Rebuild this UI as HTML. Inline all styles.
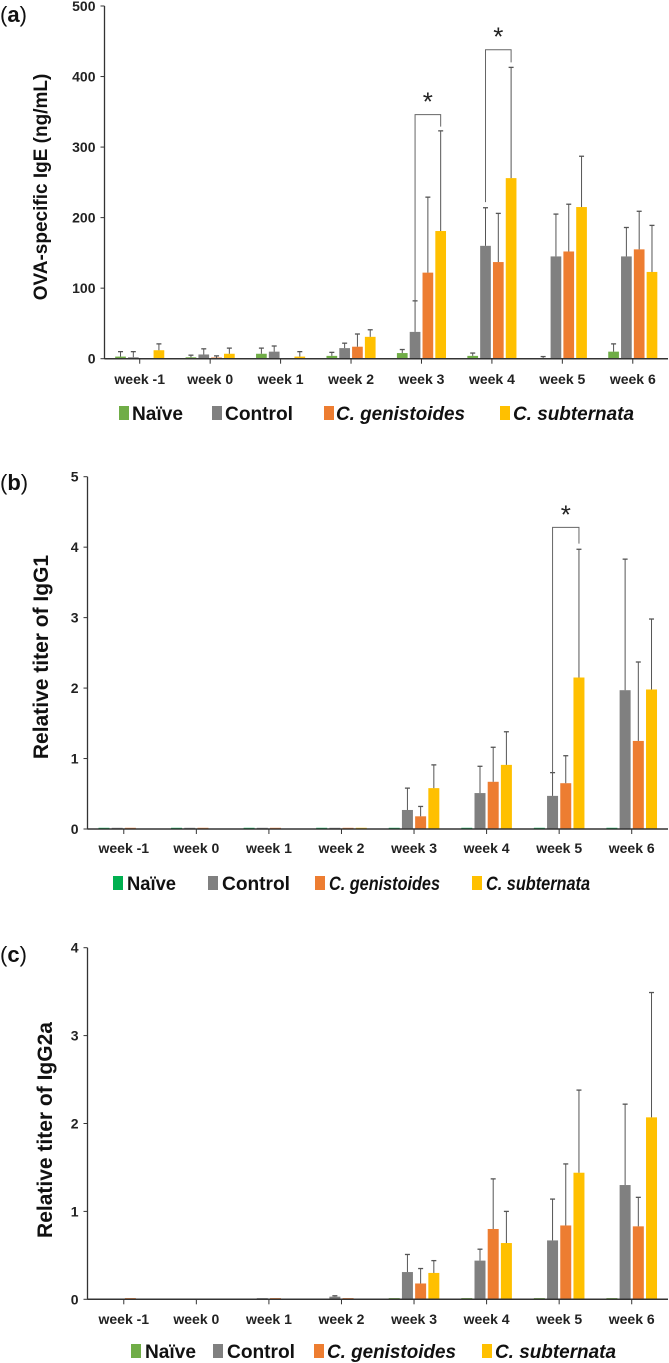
<!DOCTYPE html>
<html><head><meta charset="utf-8"><style>
body{margin:0;background:#fff;}
svg{display:block;font-family:"Liberation Sans",Arial,sans-serif;}
</style></head><body>
<svg id="fig" width="669" height="1363" viewBox="0 0 669 1363" xmlns="http://www.w3.org/2000/svg"></svg>
<script>
const categories=["week -1","week 0","week 1","week 2","week 3","week 4","week 5","week 6"];
const seriesNames=["Naïve","Control","C. genistoides","C. subternata"];
// Panel A: OVA-specific IgE
const aNaive=[3,2,7,4,8,4,0,10];
const aNaiveErr=[10,5,15,9,13,8,3,21];
const aControl=[2,6,10,15,38,160,145,145];
const aControlErr=[10,14,18,22,82,214,205,186];
const aGen=[0,1,0,17,122,137,152,155];
const aGenErr=[0,4,0,35,229,206,219,209];
const aSub=[12,7,3,31,181,256,215,123];
const aSubErr=[21,15,10,41,323,413,287,189];
const aTicks=[0,100,200,300,400,500];
// Panel B: IgG1
const bNaive=[0.01,0.01,0.01,0.01,0.01,0.01,0.01,0.01];
const bControl=[0.01,0.01,0.01,0.01,0.27,0.51,0.47,1.97];
const bControlErr=[0,0,0,0,0.58,0.89,0.80,3.83];
const bGen=[0.01,0.01,0.01,0.01,0.18,0.67,0.65,1.25];
const bGenErr=[0,0,0,0,0.32,1.16,1.04,2.37];
const bSub=[0,0,0,0.01,0.58,0.91,2.15,1.98];
const bSubErr=[0,0,0,0,0.91,1.38,3.97,2.98];
const bTicks=[0,1,2,3,4,5];
// Panel C: IgG2a
const cNaive=[0,0,0,0,0.01,0.01,0.01,0.01];
const cControl=[0,0,0.01,0.03,0.31,0.44,0.67,1.30];
const cControlErr=[0,0,0,0.04,0.51,0.57,1.14,2.22];
const cGen=[0.01,0,0.01,0.01,0.18,0.80,0.84,0.83];
const cGenErr=[0,0,0,0,0.35,1.37,1.54,1.16];
const cSub=[0,0,0,0,0.30,0.64,1.44,2.07];
const cSubErr=[0,0,0,0,0.44,1.00,2.38,3.49];
const cTicks=[0,1,2,3,4];

const NS="http://www.w3.org/2000/svg";
const fig=document.getElementById('fig');
function mk(tag,attrs,parent,text){const e=document.createElementNS(NS,tag);for(const k in attrs)e.setAttribute(k,attrs[k]);if(text!==undefined)e.textContent=text;(parent||fig).appendChild(e);return e;}

function panel(cfg){
  const g=mk('g',{});
  
  
  const x0=cfg.x0,x1=cfg.x1,yTop=cfg.yTop,yBot=cfg.yBot,max=cfg.max;
  const n=categories.length, cw=(x1-x0)/n;
  const y=v=>yBot-(v/max)*(yBot-yTop);
  const xc=i=>x0+cw*(i+0.5);
  const lbl=mk('text',{x:0,y:cfg.labelY,'font-size':22,fill:'#111'},g,'');
  
  
  mk('tspan',{},lbl,'(');mk('tspan',{'font-weight':'bold'},lbl,cfg.letter);mk('tspan',{},lbl,')');
  const ax=mk('line',{x1:x0,y1:yTop,x2:x0,y2:yBot,stroke:'#333','stroke-width':1.3},g);
  
  cfg.ticks.forEach(t=>{
    mk('line',{x1:x0-4,y1:y(t),x2:x0,y2:y(t),stroke:'#333','stroke-width':1},g);
    const tl=mk('text',{x:x0-9,y:y(t)+5,'text-anchor':'end','font-size':14,'font-weight':'bold',fill:'#222'},g,String(t));
    
  });
  const yt=mk('text',{x:0,y:0,transform:`translate(${cfg.titleX},${cfg.titleY}) rotate(-90)`,'text-anchor':'middle','font-size':cfg.titleSize,'font-weight':'bold',fill:'#111'},g,cfg.title);
  
  const bw=cfg.bw, step=cfg.step;
  const offs=[-1.5,-0.5,0.5,1.5];
  cfg.series.forEach((s,si)=>{
    s.vals.forEach((v,i)=>{
      const bx=xc(i)+offs[si]*step-bw/2;
      const h=Math.max(yBot-y(v),v>0?1.2:0);
      if(h>0){const r=mk('rect',{x:bx,y:yBot-h,width:bw,height:h,fill:s.color},g);
        }
      const e=s.err?s.err[i]:0;
      if(e>v){const cx=bx+bw/2;
        mk('line',{x1:cx,y1:y(v),x2:cx,y2:y(e),stroke:'#555','stroke-width':1},g);
        mk('line',{x1:cx-2.5,y1:y(e),x2:cx+2.5,y2:y(e),stroke:'#555','stroke-width':1.3},g);}
    });
  });
  const xa=mk('line',{x1:x0,y1:yBot,x2:x1,y2:yBot,stroke:'#333','stroke-width':1.5},g);
  
  categories.forEach((c,i)=>{
    mk('line',{x1:xc(i),y1:yBot,x2:xc(i),y2:yBot+5,stroke:'#333','stroke-width':1},g);
    const t=mk('text',{x:xc(i),y:cfg.catY,'text-anchor':'middle','font-size':14,'font-weight':'bold',fill:'#222'},g,c);
    
  });
  cfg.sig.forEach(s=>{
    const lx=xc(s.i)+offs[1]*step, rx=xc(s.i)+offs[3]*step;
    mk('polyline',{points:`${lx},${y(s.l)} ${lx},${y(s.h)} ${rx},${y(s.h)} ${rx},${y(s.r)}`,fill:'none',stroke:'#666','stroke-width':1},g);
    const st=mk('text',{x:(lx+rx)/2,y:y(s.h)-4,'text-anchor':'middle','font-size':26,fill:'#222'},g,'*');
    
  });
  cfg.legend.forEach((L,k)=>{
    const lg=mk('g',{},g);
    
    mk('rect',{x:L.sx,y:cfg.legY-14,width:10,height:14,fill:cfg.series[k].color},lg);
    mk('text',{x:L.tx,y:cfg.legY,'font-size':19,'font-weight':'bold','font-style':k>=2?'italic':'normal',fill:'#111',textLength:L.w,lengthAdjust:'spacingAndGlyphs'},lg,seriesNames[k]);
  });
}
const COLG='#70ad47',COLG2='#00b050',COLK='#808080',COLO='#ed7d31',COLY='#ffc000';
panel({name:'panel-a-ige',letter:'a',labelY:22,x0:104.5,x1:668,yTop:6,yBot:358.7,max:500,ticks:aTicks,
  title:'OVA-specific IgE (ng/mL)',titleX:47,titleY:187,titleSize:19,catY:384,bw:10.7,step:12.8,
  series:[{key:'naive',vals:aNaive,err:aNaiveErr,color:COLG},{key:'control',vals:aControl,err:aControlErr,color:COLK},{key:'genistoides',vals:aGen,err:aGenErr,color:COLO},{key:'subternata',vals:aSub,err:aSubErr,color:COLY}],
  sig:[{i:4,h:346,l:82,r:329},{i:5,h:438,l:222,r:420}],
  legY:420,legend:[{sx:119,tx:132,w:51},{sx:212,tx:225,w:68},{sx:324,tx:336,w:129},{sx:500,tx:513,w:121}]});
panel({name:'panel-b-igg1',letter:'b',labelY:490,x0:87.5,x1:668,yTop:476.7,yBot:829,max:5,ticks:bTicks,
  title:'Relative titer of IgG1',titleX:48,titleY:657,titleSize:21,catY:853,bw:11,step:13.2,
  series:[{key:'naive',vals:bNaive,err:null,color:COLG2},{key:'control',vals:bControl,err:bControlErr,color:COLK},{key:'genistoides',vals:bGen,err:bGenErr,color:COLO},{key:'subternata',vals:bSub,err:bSubErr,color:COLY}],
  sig:[{i:6,h:4.28,l:0.80,r:4.05}],
  legY:890,legend:[{sx:113,tx:127,w:49},{sx:208,tx:222,w:68},{sx:315,tx:329,w:111},{sx:472,tx:486,w:104}]});
panel({name:'panel-c-igg2a',letter:'c',labelY:962,x0:87.5,x1:668,yTop:947.7,yBot:1299.3,max:4,ticks:cTicks,
  title:'Relative titer of IgG2a',titleX:52,titleY:1130,titleSize:21,catY:1324,bw:11,step:13.2,
  series:[{key:'naive',vals:cNaive,err:null,color:COLG},{key:'control',vals:cControl,err:cControlErr,color:COLK},{key:'genistoides',vals:cGen,err:cGenErr,color:COLO},{key:'subternata',vals:cSub,err:cSubErr,color:COLY}],
  sig:[],
  legY:1358,legend:[{sx:131,tx:145,w:51},{sx:213,tx:227,w:68},{sx:314,tx:327,w:129},{sx:482,tx:495,w:121}]});
</script>
</body></html>
